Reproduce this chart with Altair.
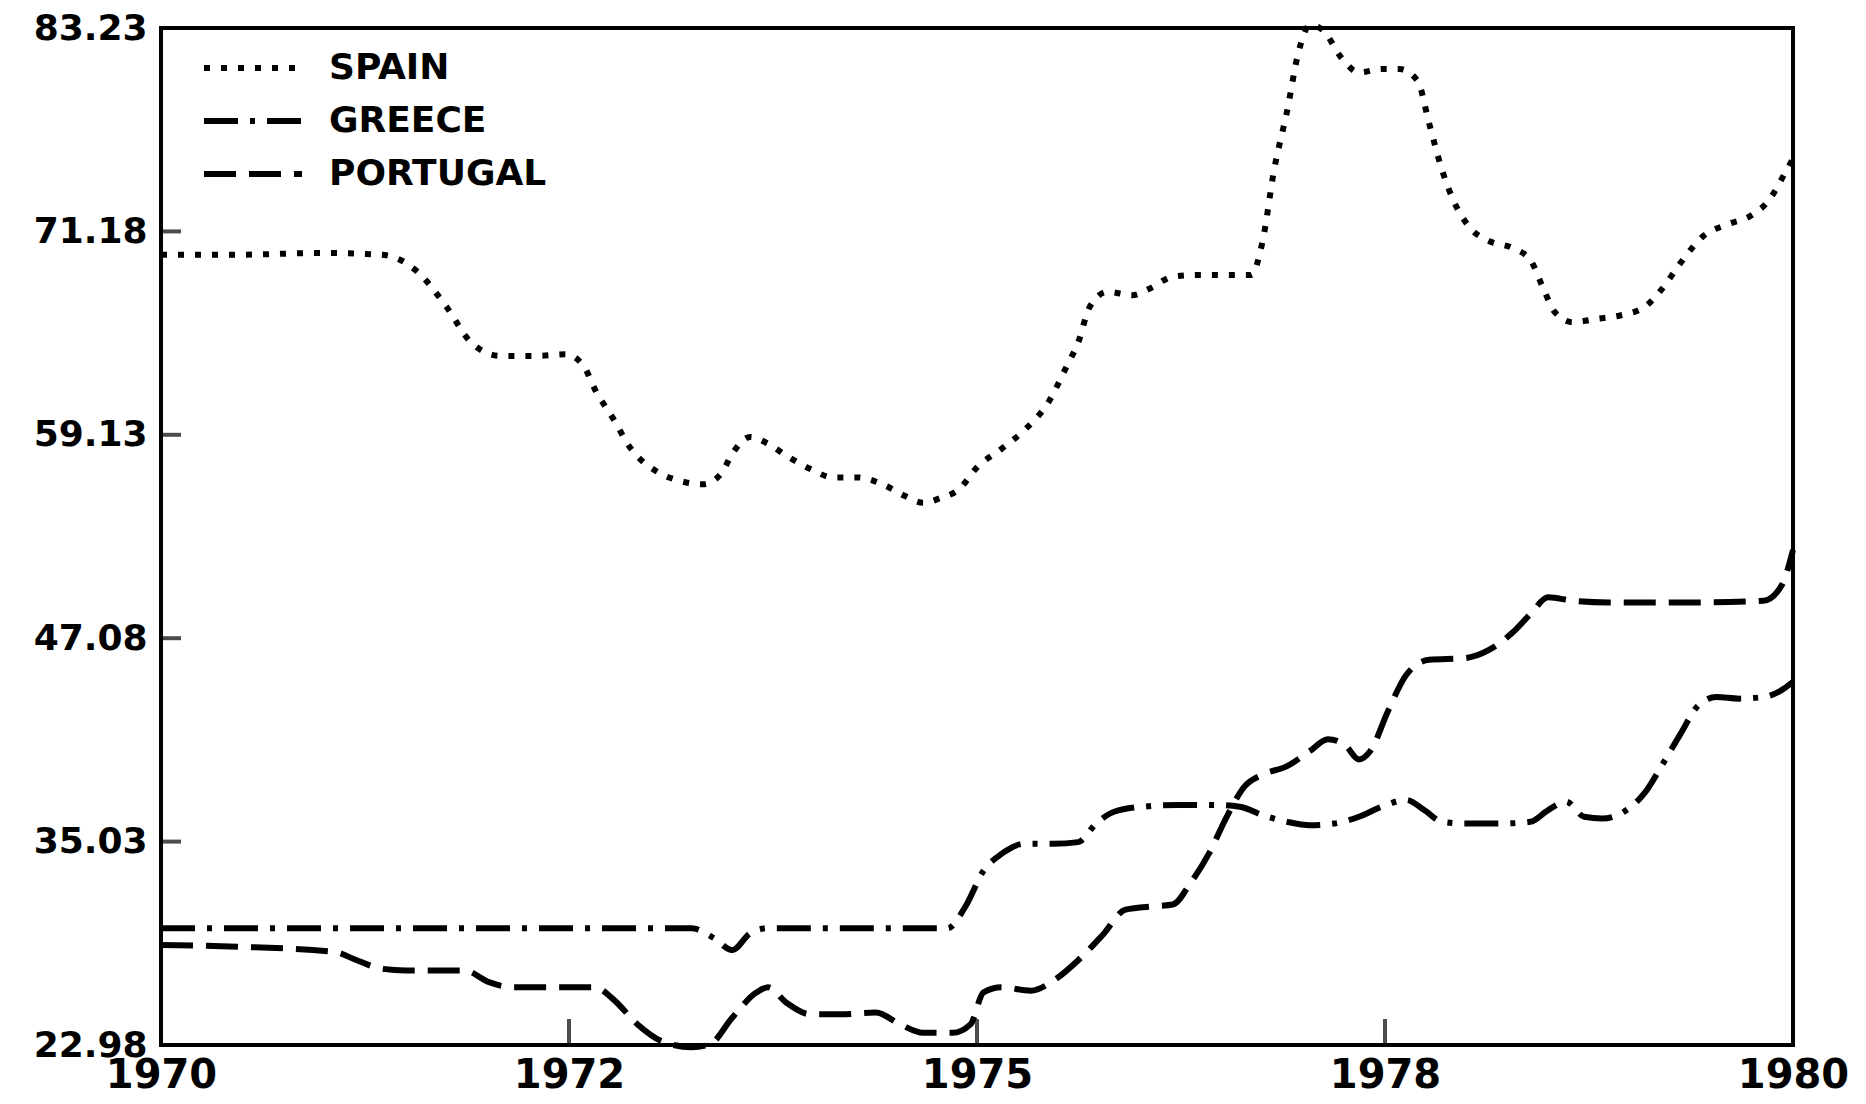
import altair as alt
import pandas as pd

# ---- data ----
spain_year = [1970.00, 1970.47, 1970.99, 1971.35, 1971.57, 1971.75, 1971.90, 1972.08, 1972.30, 1972.48,
              1972.59, 1972.66, 1972.77, 1972.88, 1973.03, 1973.18, 1973.32, 1973.43, 1973.50, 1973.61,
              1973.72, 1973.83, 1973.98, 1974.12, 1974.27, 1974.42, 1974.56, 1974.67, 1974.78, 1974.89,
              1975.00, 1975.15, 1975.29, 1975.44, 1975.55, 1975.62, 1975.69, 1975.80, 1975.95, 1976.06,
              1976.20, 1976.35, 1976.68, 1976.75, 1976.82, 1976.90, 1976.97, 1977.04, 1977.12, 1977.23,
              1977.34, 1977.48, 1977.59, 1977.70, 1977.77, 1977.85, 1977.92, 1978.03, 1978.14, 1978.28,
              1978.39, 1978.47, 1978.54, 1978.65, 1978.80, 1978.94, 1979.09, 1979.20, 1979.31, 1979.45,
              1979.60, 1979.74, 1979.85, 1979.96, 1980.00]
spain_value = [69.8, 69.8, 69.9, 69.8, 68.8, 66.7, 64.6, 63.8, 63.8, 63.9,
               63.2, 61.8, 60.1, 58.3, 57.0, 56.4, 56.2, 56.8, 58.0, 59.0,
               58.6, 57.9, 57.1, 56.6, 56.6, 56.2, 55.5, 55.1, 55.4, 55.9,
               57.2, 58.3, 59.4, 61.1, 63.2, 64.6, 66.7, 67.6, 67.4, 67.8,
               68.5, 68.6, 68.6, 70.6, 74.8, 78.3, 81.8, 83.4, 83.1, 81.5,
               80.6, 80.8, 80.8, 80.1, 77.6, 74.8, 73.0, 71.3, 70.6, 70.2,
               69.5, 67.8, 66.4, 65.8, 66.0, 66.2, 66.7, 67.8, 69.3, 70.9,
               71.6, 72.1, 73.0, 74.8, 75.5]

greece_year = [1970.00, 1973.25, 1973.39, 1973.50, 1973.61, 1973.72, 1974.82, 1974.93, 1975.04, 1975.15,
               1975.29, 1975.47, 1975.62, 1975.73, 1975.84, 1976.02, 1976.24, 1976.46, 1976.61, 1976.75,
               1976.90, 1977.04, 1977.19, 1977.34, 1977.48, 1977.63, 1977.74, 1977.85, 1977.99, 1978.21,
               1978.39, 1978.50, 1978.61, 1978.72, 1978.83, 1978.98, 1979.09, 1979.20, 1979.31, 1979.42,
               1979.53, 1979.67, 1979.82, 1979.93, 1980.00]
greece_value = [29.9, 29.9, 29.3, 28.6, 29.6, 29.9, 29.9, 31.2, 33.3, 34.3,
                34.9, 34.9, 35.0, 36.1, 36.8, 37.1, 37.2, 37.2, 37.1, 36.6,
                36.2, 36.0, 36.1, 36.5, 37.1, 37.5, 36.9, 36.2, 36.1, 36.1,
                36.2, 36.9, 37.4, 36.5, 36.4, 36.9, 37.9, 39.6, 41.4, 43.1,
                43.6, 43.5, 43.6, 44.0, 44.5]

portugal_year = [1970.00, 1970.47, 1971.06, 1971.20, 1971.35, 1971.50, 1971.86, 1972.01, 1972.15, 1972.66,
                 1972.77, 1972.92, 1973.07, 1973.25, 1973.36, 1973.50, 1973.65, 1973.72, 1973.83, 1973.98,
                 1974.16, 1974.38, 1974.53, 1974.67, 1974.85, 1974.96, 1975.04, 1975.15, 1975.33, 1975.47,
                 1975.62, 1975.77, 1975.91, 1976.09, 1976.20, 1976.31, 1976.42, 1976.53, 1976.64, 1976.75,
                 1976.90, 1977.04, 1977.15, 1977.26, 1977.34, 1977.41, 1977.52, 1977.63, 1977.77, 1977.99,
                 1978.14, 1978.28, 1978.39, 1978.50, 1978.65, 1978.87, 1979.38, 1979.82, 1979.93, 1980.00]
portugal_value = [28.9, 28.8, 28.5, 28.0, 27.5, 27.4, 27.4, 26.7, 26.4, 26.4,
                  25.7, 24.2, 23.2, 22.85, 23.0, 24.6, 26.1, 26.4, 25.5, 24.8,
                  24.8, 24.9, 24.2, 23.7, 23.7, 24.2, 26.1, 26.4, 26.2, 26.8,
                  28.0, 29.5, 31.0, 31.2, 31.3, 32.6, 34.3, 36.5, 38.3, 39.0,
                  39.5, 40.4, 41.1, 40.7, 39.9, 40.4, 42.8, 44.9, 45.8, 45.9,
                  46.4, 47.4, 48.5, 49.5, 49.3, 49.2, 49.2, 49.3, 50.2, 52.3]

countries = ["SPAIN", "GREECE", "PORTUGAL"]
dash_patterns = [[6, 11], [34, 12, 5, 12], [32, 13]]

x_tick_values = [1970, 1972.5, 1975, 1977.5, 1980]
x_tick_labels = ["1970", "1972", "1975", "1978", "1980"]
y_tick_values = [22.98, 35.03, 47.08, 59.13, 71.18, 83.23]
inner_x_ticks = [1972.5, 1975, 1977.5]
inner_y_ticks = [35.03, 47.08, 59.13, 71.18]

# ---- build tables ----
rows = []
for name, yrs, vals in [("SPAIN", spain_year, spain_value),
                        ("GREECE", greece_year, greece_value),
                        ("PORTUGAL", portugal_year, portugal_value)]:
    rows += [{"country": name, "year": a, "value": b} for a, b in zip(yrs, vals)]
df = pd.DataFrame(rows)

xt_df = pd.DataFrame({"year": inner_x_ticks, "value": [y_tick_values[0]] * len(inner_x_ticks)})
yt_df = pd.DataFrame({"year": [x_tick_values[0]] * len(inner_y_ticks), "value": inner_y_ticks})

label_expr = " : ".join(f"datum.value == {v} ? '{l}'" for v, l in zip(x_tick_values, x_tick_labels)) + " : ''"

FONT = "DejaVu Sans"

x_enc = alt.X("year:Q",
              scale=alt.Scale(domain=[x_tick_values[0], x_tick_values[-1]], nice=False, zero=False),
              axis=alt.Axis(values=x_tick_values, labelExpr=label_expr, title=None, grid=False,
                            domain=False, ticks=False, labelFont=FONT, labelFontSize=40,
                            labelFontWeight="bold", labelColor="black", labelPadding=10,
                            labelFlush=False, labelOverlap=False))
y_enc = alt.Y("value:Q",
              scale=alt.Scale(domain=[y_tick_values[0], y_tick_values[-1]], nice=False, zero=False),
              axis=alt.Axis(values=y_tick_values, format=".2f", title=None, grid=False,
                            domain=False, ticks=False, labelFont=FONT, labelFontSize=36,
                            labelFontWeight="bold", labelColor="black", labelPadding=14,
                            labelFlush=False, labelOverlap=False))

lines = alt.Chart(df).mark_line(color="black", strokeWidth=6, interpolate="monotone").encode(
    x=x_enc,
    y=y_enc,
    strokeDash=alt.StrokeDash(
        "country:N",
        scale=alt.Scale(domain=countries, range=dash_patterns),
        legend=alt.Legend(title=None, orient="none", legendX=40, legendY=20,
                          symbolType="stroke", symbolSize=9604, symbolStrokeWidth=6,
                          symbolStrokeColor="black", labelFont=FONT, labelFontSize=36,
                          labelFontWeight="bold", labelColor="black", labelOffset=24,
                          labelLimit=0, clipHeight=40, rowPadding=13),
    ),
)

xticks = alt.Chart(xt_df).mark_tick(color="black", orient="vertical", size=26,
                                    thickness=4, yOffset=-13).encode(x=x_enc, y=y_enc)
yticks = alt.Chart(yt_df).mark_tick(color="black", orient="horizontal", size=20,
                                    thickness=4, xOffset=10).encode(x=x_enc, y=y_enc)

chart = alt.layer(lines, xticks, yticks).properties(
    width=1632, height=1017,
    autosize=alt.AutoSizeParams(type="none"),
    padding={"left": 153, "top": 20, "right": 60, "bottom": 50},
).configure_view(stroke="black", strokeWidth=4)

chart.save("out.html", embed_options={"renderer": "svg", "actions": False})
